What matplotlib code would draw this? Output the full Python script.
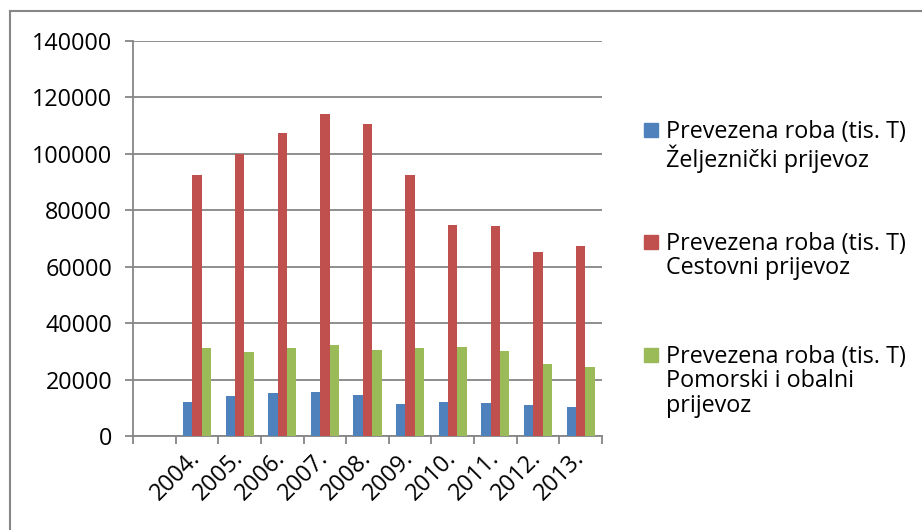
import numpy as np
import matplotlib
matplotlib.use("Agg")
import matplotlib.pyplot as plt
from matplotlib.patches import Rectangle
from matplotlib.lines import Line2D

plt.rcParams['font.family'] = ['Open Sans', 'DejaVu Sans']

# first category is empty in the source chart
years = ["", "2004.", "2005.", "2006.", "2007.", "2008.", "2009.",
         "2010.", "2011.", "2012.", "2013."]
zeljeznicki = [np.nan, 12100, 14150, 15300, 15700, 14700, 11550, 12100, 11650, 10950, 10500]
cestovni = [np.nan, 92600, 100000, 107500, 114100, 110600, 92700, 74800, 74600, 65300, 67300]
pomorski = [np.nan, 31100, 29800, 31200, 32300, 30600, 31200, 31800, 30200, 25600, 24500]

labels = ["Prevezena roba (tis. T)\nŽeljeznički prijevoz",
          "Prevezena roba (tis. T)\nCestovni prijevoz",
          "Prevezena roba (tis. T)\nPomorski i obalni\nprijevoz"]
colors = ["#4F81BD", "#C0504D", "#9BBB59"]
grid_c = "#868686"
fs = 16.8

W, H = 922, 530
fig = plt.figure(figsize=(W / 100, H / 100), dpi=100)
ax = fig.add_axes((133 / W, 1 - 436.3 / H, (602 - 133) / W, (436.3 - 41) / H))

x = np.arange(len(years))
width = 0.22
for i, vals in enumerate([zeljeznicki, cestovni, pomorski]):
    ax.bar(x + (i - 1) * width, vals, width, color=colors[i], zorder=3)

ax.set_xlim(-0.5, len(years) - 0.5)
ax.set_ylim(0, 140000)
ax.set_yticks(np.arange(0, 140001, 20000))
ax.yaxis.grid(True, color=grid_c, linewidth=1.3, zorder=0)
ax.set_axisbelow(True)

# category ticks sit between the groups, labels at centres
ax.set_xticks(np.arange(-0.5, len(years), 1.0))
ax.set_xticklabels([])
ax.set_xticks(x, minor=True)
ax.set_xticklabels(years, minor=True, rotation=45, ha='right', va='center',
                   rotation_mode='anchor', fontsize=fs)
ax.tick_params(axis='x', which='minor', length=0, pad=13)
ax.tick_params(axis='x', which='major', length=6, width=1.3, color=grid_c)
ax.tick_params(axis='y', length=6, width=1.3, color=grid_c, labelsize=fs, pad=9)

for s in ['top', 'right']:
    ax.spines[s].set_visible(False)
for s in ['left', 'bottom']:
    ax.spines[s].set_color(grid_c)
    ax.spines[s].set_linewidth(1.3)

# legend drawn at the right
entry_y = [130, 241.5, 355]
for lab, c, yy in zip(labels, colors, entry_y):
    fig.patches.append(Rectangle((644 / W, 1 - (yy + 7) / H), 14 / W, 14 / H,
                                 transform=fig.transFigure, color=c))
    fig.text(666 / W, 1 - (yy - 10) / H, lab, fontsize=fs, va='top', ha='left',
             linespacing=1.02)

# chart border
fig.add_artist(Line2D([9.5 / W, 9.5 / W], [0, 1 - 11.3 / H], color=grid_c,
                      linewidth=1.5, transform=fig.transFigure))
fig.add_artist(Line2D([9.5 / W, 1], [1 - 11.3 / H, 1 - 11.3 / H], color=grid_c,
                      linewidth=1.5, transform=fig.transFigure))

fig.savefig("out.png", dpi=100)
